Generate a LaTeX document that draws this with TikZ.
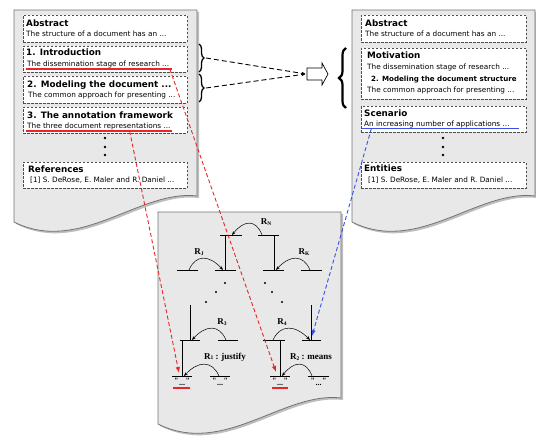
\documentclass[tikz,border=0pt]{standalone}
\usepackage{fontspec}
\newfontfamily\docfont{DejaVu Sans}
\newfontfamily\treefont{Liberation Serif}
\usetikzlibrary{decorations.pathreplacing,arrows.meta}
\newcommand\dtitle{\docfont\bfseries\fontsize{8.8}{10}\selectfont}
\newcommand\dbody{\docfont\fontsize{7.3}{9}\selectfont}
\newcommand\dsub{\docfont\bfseries\fontsize{7.1}{9}\selectfont}
\newcommand\Rlab[2]{{\treefont\bfseries\fontsize{9}{10}\selectfont R\raisebox{-0.4pt}{\fontsize{5.5}{6}\selectfont #1}#2}}
\newcommand\leaftext{{\treefont\bfseries\fontsize{8}{8}\selectfont "\kern0.5pt\raisebox{-2pt}{...}\kern0.5pt"}}
\definecolor{docfill}{HTML}{E8E8E8}
\definecolor{myred}{HTML}{E8262A}
\definecolor{myblue}{HTML}{3A4FE6}
\tikzset{
  docstyle/.style={fill=docfill, draw=black!55, line width=0.8pt},
  docshadow/.style={fill=black, opacity=0.25},
  dbox/.style={draw=black!70, dash pattern=on 2.5pt off 1.5pt, line width=0.7pt, fill=white, inner sep=0pt, anchor=north west},
  ttext/.style={anchor=base west, inner sep=0pt, font=\dtitle},
  btext/.style={anchor=base west, inner sep=0pt, font=\dbody},
  bar/.style={line width=1pt},
  vline/.style={line width=0.8pt},
  rarrow/.style={line width=0.5pt, -{Stealth[length=4pt,width=3pt]}},
  redul/.style={myred, line width=1.1pt},
  redc/.style={myred, line width=0.9pt, dash pattern=on 4pt off 2.5pt, -{Latex[length=6pt,width=4.5pt]}},
  bluec/.style={myblue, line width=0.9pt, dash pattern=on 4pt off 2.5pt, -{Latex[length=6pt,width=4.5pt]}},
  bdash/.style={black, line width=0.9pt, dash pattern=on 5pt off 3pt, -{Latex[length=4pt,width=3pt]}},
  rlab/.style={inner sep=0pt},
}
\newcommand\rcurve[3]{\draw[rarrow] (#1,#3) .. controls ({#1+0.2*(#2-#1)},#3-16) and ({#1+0.6*(#2-#1)},#3-15) .. (#2,#3);}
\begin{document}
\begin{tikzpicture}[x=1pt,y=-1pt]
\useasboundingbox (0,0) rectangle (536,438);
% documents
\foreach \dx/\dy in {14/10,352/10,158/212}{
  \begin{scope}[shift={(\dx,\dy)}]
    \fill[docshadow] (2,2) -- (185,2) -- (185,188) .. controls (128,181) and (68,247) .. (2,214) -- cycle;
    \draw[docstyle] (0,0) -- (183,0) -- (183,186) .. controls (126,179) and (66,245) .. (0,212) -- cycle;
  \end{scope}
}
% left document boxes
\node[dbox, minimum width=164pt, minimum height=27pt] (Labs) at (23,15) {};
\node[dbox, minimum width=164pt, minimum height=26pt] (Lint) at (23,46) {};
\node[dbox, minimum width=164pt, minimum height=27pt] (Lmod) at (23,76) {};
\node[dbox, minimum width=164pt, minimum height=26pt] (Lann) at (23,107) {};
\node[dbox, minimum width=164pt, minimum height=26pt] (Lref) at (23,162) {};
\node[ttext] (tLabs) at (26,26.3) {Abstract};
\node[btext] (bLabs) at (26,36.4) {The structure of a document has an ...};
\node[ttext] (tLint) at (26,56) {1. Introduction};
\node[btext] (bLint) at (27,66.7) {The dissemination stage of research ...};
\node[ttext] (tLmod) at (27,87.3) {2. Modeling the document ...};
\node[btext] (bLmod) at (28,97.7) {The common approach for presenting ...};
\node[ttext] (tLann) at (27,118.3) {3. The annotation framework};
\node[btext] (bLann) at (27,128.7) {The three document representations ...};
\node[ttext] (tLref) at (28,172.3) {References};
\node[btext] (bLref) at (30,182.7) {[1] S. DeRose, E. Maler and R. Daniel ...};
\foreach \yy in {138,147,155} \fill (105,\yy) circle (1.3);
\draw[redul] (26,69) -- (172,69) coordinate[pos=0.985] (sInt);
\draw[redul] (26,131) -- (172,131) coordinate[pos=0.71] (sAnn);
% right document boxes
\node[dbox, minimum width=165pt, minimum height=27pt] (Rabs) at (361,15) {};
\node[dbox, minimum width=165pt, minimum height=51pt] (Rmot) at (361,48) {};
\node[dbox, minimum width=165pt, minimum height=26pt] (Rsce) at (361,106) {};
\node[dbox, minimum width=165pt, minimum height=26pt] (Rent) at (361,162) {};
\node[ttext] (tRabs) at (365,26.3) {Abstract};
\node[btext] (bRabs) at (365,36.4) {The structure of a document has an ...};
\node[ttext] (tRmot) at (367,59) {Motivation};
\node[btext] (bRmot) at (367,69.4) {The dissemination stage of research ...};
\node[anchor=base west, inner sep=0pt, font=\dsub] (sRmot) at (371,81.5) {2. Modeling the document structure};
\node[btext] (cRmot) at (367,92.7) {The common approach for presenting ...};
\node[ttext] (tRsce) at (364,116.6) {Scenario};
\node[btext] (bRsce) at (364,127) {An increasing number of applications ...};
\node[ttext] (tRent) at (364,171.6) {Entities};
\node[btext] (bRent) at (368,182.7) {[1] S. DeRose, E. Maler and R. Daniel ...};
\foreach \yy in {138,147,155} \fill (443,\yy) circle (1.3);
\draw[myblue, line width=0.9pt] (362,128.5) -- (519,128.5) coordinate[pos=0.06] (sSce);
% braces and arrow
\draw[line width=1.3pt, decorate, decoration={brace, amplitude=5pt}] (199,44) -- (199,72);
\draw[line width=1.3pt, decorate, decoration={brace, amplitude=5pt}] (199,74) -- (199,102);
\draw[line width=2.2pt, decorate, decoration={brace, amplitude=7pt}] (346,108) -- (346,48);
\draw[fill=white, line width=0.7pt] (307,68) -- (322,68) -- (322,63) -- (328,74) -- (322,85) -- (322,80) -- (307,80) -- cycle;
\coordinate (arrL) at (306,74);
\coordinate (b1) at (206,58);
\coordinate (b2) at (206,88);
\draw[bdash] (b1) -- (arrL);
\draw[bdash] (b2) -- (arrL);
% tree
\foreach \n/\a/\b/\yy in {A1/220/242/236, A2/258/279/236,
  B1/177/198/271, B2/215/236/271, B3/263/284/271, B4/301/322/271,
  C1/180/200/341, C2/218/238/341, C3/263/285/341, C4/302/321/341,
  D1/172/192/377, D2/210/230/377, D3/270/290/377, D4/308/329/377}{
  \draw[bar] (\a,\yy) coordinate (\n-w) -- (\b,\yy) coordinate (\n-e);
}
\draw[vline] (225,236) -- (225,271);
\draw[vline] (274,236) -- (274,271);
\draw[vline] (190,305) -- (190,341);
\draw[vline] (311,305) -- (311,341);
\draw[vline] (182,341) -- (182,377);
\draw[vline] (280,341) -- (280,377);
\foreach \px/\py in {225/283,216/292,206/302,265/283,272/292,282/302} \fill (\px,\py) circle (1.2);
\rcurve{262}{232}{235}
\rcurve{189}{223}{270}
\rcurve{310}{276}{270}
\rcurve{226}{192}{340}
\rcurve{273}{310}{340}
\rcurve{219}{184}{376}
\rcurve{312}{282}{376}
\node[rlab] (lN) at (266,222) {\Rlab{N}{}};
\node[rlab] (lJ) at (199,252) {\Rlab{J}{}};
\node[rlab] (lK) at (304,252) {\Rlab{K}{}};
\node[rlab] (l3) at (222,322) {\Rlab{3}{}};
\node[rlab] (l4) at (282,322) {\Rlab{4}{}};
\node[rlab] (l1) at (225,357) {\Rlab{1}{ : justify}};
\node[rlab] (l2) at (311,357) {\Rlab{2}{ : means}};
\foreach \cx in {182,220,280,318.5} \node[anchor=north, inner sep=0pt] at (\cx,378.5) {\leaftext};
\draw[myred, line width=2pt] (173,388.5) -- (190,388.5);
\draw[myred, line width=2pt] (272,388.5) -- (288,388.5);
\coordinate (tD1) at (179,373);
\coordinate (tD3) at (276,372);
\coordinate (tC4) at (312,336);
% connectors
\draw[redc] (sInt) -- (tD3);
\draw[redc] (sAnn) -- (tD1);
\draw[bluec] (sSce) -- (tC4);
\end{tikzpicture}
\end{document}
